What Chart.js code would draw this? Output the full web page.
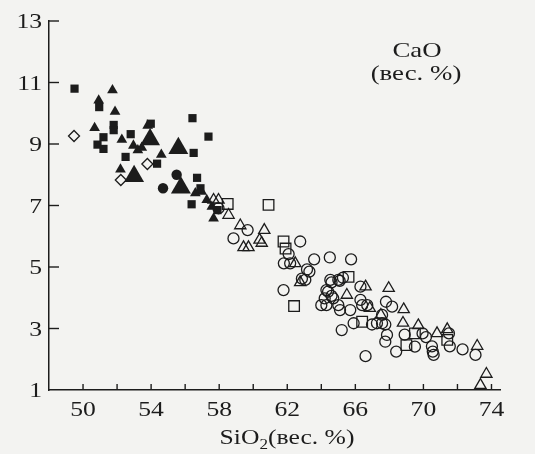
<!DOCTYPE html>
<html lang="ru">
<head>
<meta charset="UTF-8">
<title>CaO - SiO2</title>
<script src="https://cdn.jsdelivr.net/npm/chart.js@4.4.0/dist/chart.umd.min.js"></script>
<style>
  html, body { margin: 0; padding: 0; background: #f3f3f1; }
  canvas { display: block; }
</style>
</head>
<body>
<canvas id="caoChart" width="535" height="454"></canvas>
<script>
// axis ticks
const xTicks = [50, 52, 54, 56, 58, 60, 62, 64, 66, 68, 70, 72, 74];
const xLabels = [50, 54, 58, 62, 66, 70, 74];
const yTicks = [1, 3, 5, 7, 9, 11, 13];

// [SiO2, CaO]
const filledSquares = [[49.5,10.8],[50.95,10.2],[51.8,9.62],[51.8,9.45],[51.2,9.22],[50.85,8.98],[51.2,8.84],
  [52.8,9.32],[52.5,8.58],[53.98,9.66],[54.35,8.36],[56.43,9.84],[57.37,9.24],[56.5,8.71],[56.7,7.9],
  [56.38,7.04],[56.9,7.56],[57.9,6.85]];
const smallTriangles = [[50.92,10.42],[51.73,10.75],[51.88,10.05],[50.68,9.52],[52.28,9.14],[52.96,8.95],
  [53.22,8.8],[53.8,9.6],[53.45,8.88],[52.2,8.17],[54.6,8.65],[56.97,7.45],[57.27,7.18],[57.57,6.96],
  [57.67,6.58],[56.6,7.4]];
const bigTriangles = [[53.0,7.95],[53.94,9.15],[55.6,8.86],[55.75,7.58]];
const filledCircles = [[54.7,7.56],[55.5,8.0]];
const openDiamonds = [[49.47,9.26],[53.78,8.35],[52.22,7.83]];
const openSquares = [[58.5,7.05],[60.9,7.02],[61.78,5.83],[61.9,5.6],[62.4,3.73],[65.6,4.68],[66.4,3.22],
  [69.0,2.46],[69.5,2.84],[71.4,2.63]];
const openTriangles = [[57.67,7.18],[57.96,7.18],[58.55,6.69],[59.24,6.35],[60.65,6.2],[59.43,5.64],
  [59.72,5.64],[60.37,5.88],[60.5,5.78],[62.47,5.12],[62.76,4.5],[65.5,4.09],[66.6,4.36],[67.96,4.31],
  [66.85,3.66],[67.5,3.44],[68.84,3.62],[68.8,3.18],[69.7,3.1],[70.8,2.84],[71.4,2.97],[73.16,2.43],
  [73.7,1.52],[73.35,1.16]];
const openCircles = [[57.96,6.91],[59.67,6.2],[58.84,5.93],[62.76,5.83],[62.08,5.42],[61.8,5.12],[62.17,5.12],
  [63.16,4.92],[61.78,4.25],[63.58,5.25],[64.5,5.31],[65.75,5.25],[63.3,4.85],[63.06,4.58],[62.86,4.62],
  [64.53,4.58],[65.0,4.58],[64.3,4.25],[64.6,4.06],[64.6,4.5],[65.27,4.65],[65.08,4.55],[66.3,4.36],
  [64.4,4.2],[64.2,3.98],[64.0,3.76],[64.3,3.76],[64.7,3.98],[65.0,3.76],[65.1,3.6],[65.7,3.6],[66.3,3.93],
  [66.4,3.76],[66.7,3.76],[67.8,3.87],[68.16,3.71],[67.57,3.44],[65.9,3.17],[66.98,3.13],[67.27,3.17],
  [67.57,3.17],[67.76,3.13],[67.86,2.79],[67.76,2.57],[65.2,2.95],[68.9,2.8],[68.4,2.25],[66.6,2.1],
  [69.5,2.41],[70.55,2.25],[70.5,2.42],[70.6,2.14],[72.3,2.32],[73.06,2.14],[71.55,2.42],[71.5,2.84],
  [69.95,2.84],[70.15,2.72]];

const ink = '#1c1c1c';
const serif = '"Liberation Serif", "Times New Roman", serif';
const stretch = 1.22; // scanned lettering is a bit wide

function pts(arr) { return arr.map(p => ({ x: p[0], y: p[1] })); }

function solid(data, style, r) {
  return { data: pts(data), pointStyle: style, pointRadius: r, backgroundColor: ink,
           borderColor: ink, borderWidth: 0, clip: false };
}
function hollow(data, style, r) {
  return { data: pts(data), pointStyle: style, pointRadius: r, backgroundColor: 'rgba(0,0,0,0)',
           borderColor: ink, borderWidth: 1.3, clip: false };
}

function wideText(ctx, text, x, y, align, size) {
  ctx.save();
  ctx.font = size + 'px ' + serif;
  ctx.fillStyle = ink;
  ctx.textAlign = align;
  ctx.textBaseline = 'alphabetic';
  ctx.translate(x, y);
  ctx.scale(stretch, 1);
  ctx.fillText(text, 0, 0);
  ctx.restore();
}
function textWidth(ctx, text, size) {
  ctx.font = size + 'px ' + serif;
  return ctx.measureText(text).width * stretch;
}

// inward tick marks, tick labels and captions
const decor = {
  id: 'decor',
  afterDraw(chart) {
    const ctx = chart.ctx;
    const xs = chart.scales.x, ys = chart.scales.y;
    const area = chart.chartArea;
    ctx.save();
    ctx.strokeStyle = ink;
    ctx.lineWidth = 1.4;
    xTicks.forEach(v => {
      const px = xs.getPixelForValue(v);
      ctx.beginPath(); ctx.moveTo(px, area.bottom); ctx.lineTo(px, area.bottom - 6); ctx.stroke();
    });
    yTicks.forEach(v => {
      if (v === ys.min) return;
      const py = ys.getPixelForValue(v);
      ctx.beginPath(); ctx.moveTo(area.left, py); ctx.lineTo(area.left + 10, py); ctx.stroke();
    });
    ctx.restore();

    xLabels.forEach(v => wideText(ctx, String(v), xs.getPixelForValue(v), area.bottom + 26, 'center', 21));
    yTicks.forEach(v => wideText(ctx, String(v), area.left - 7, ys.getPixelForValue(v) + 7, 'right', 21));

    // x axis title with subscript
    const w1 = textWidth(ctx, 'SiO', 21), w2 = textWidth(ctx, '2', 14), w3 = textWidth(ctx, '(вес. %)', 21);
    let x0 = 287 - (w1 + w2 + w3) / 2;
    const base = area.bottom + 54;
    wideText(ctx, 'SiO', x0, base, 'left', 21);
    wideText(ctx, '2', x0 + w1, base + 5, 'left', 14);
    wideText(ctx, '(вес. %)', x0 + w1 + w2, base, 'left', 21);

    wideText(ctx, 'CaO', 417, 57, 'center', 22);
    wideText(ctx, '(вес. %)', 416, 80, 'center', 22);
  }
};

const axisBorder = { display: true, color: ink, width: 1.5 };

new Chart(document.getElementById('caoChart').getContext('2d'), {
  type: 'scatter',
  data: {
    datasets: [
      hollow(openCircles, 'circle', 5.5),
      hollow(openTriangles, 'triangle', 6.5),
      hollow(openSquares, 'rect', 7.5),
      hollow(openDiamonds, 'rectRot', 5.5),
      solid(filledSquares, 'rect', 5.8),
      solid(smallTriangles, 'triangle', 6.2),
      solid(bigTriangles, 'triangle', 11.5),
      solid(filledCircles, 'circle', 5.2)
    ]
  },
  options: {
    responsive: false,
    animation: false,
    devicePixelRatio: 1,
    layout: { padding: { left: 0, right: 35, top: 21, bottom: 0 } },
    plugins: { legend: { display: false }, tooltip: { enabled: false } },
    scales: {
      x: {
        type: 'linear', min: 48, max: 74.5,
        grid: { display: false },
        border: axisBorder,
        ticks: { display: false },
        afterBuildTicks: s => { s.ticks = xTicks.map(v => ({ value: v })); },
        afterFit: s => { s.height = 64; }
      },
      y: {
        type: 'linear', min: 1, max: 13,
        grid: { display: false },
        border: axisBorder,
        ticks: { display: false },
        afterBuildTicks: s => { s.ticks = yTicks.map(v => ({ value: v })); },
        afterFit: s => { s.width = 49; }
      }
    }
  },
  plugins: [decor]
});
</script>
</body>
</html>
